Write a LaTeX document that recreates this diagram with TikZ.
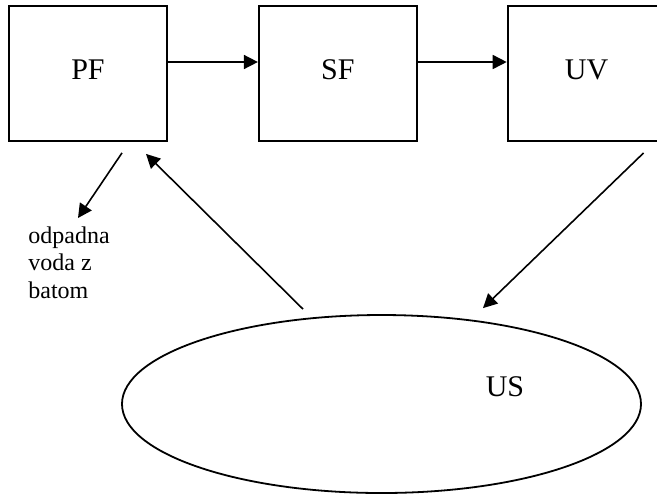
\documentclass[tikz,border=0pt]{standalone}
\usepackage{fontspec}
\setmainfont{Liberation Serif}
\usetikzlibrary{shapes.geometric, arrows.meta, positioning, calc}
\tikzset{
  unitbox/.style={rectangle, draw=black, minimum width=79pt, minimum height=67.5pt, inner sep=0pt, text height=10pt, text depth=4.5pt, font=\fontsize{15}{18}\selectfont, line width=0.9pt},
  poolnode/.style={ellipse, draw=black, minimum width=259.5pt, minimum height=89pt, inner sep=0pt, line width=0.9pt},
  poollabel/.style={font=\fontsize{15}{18}\selectfont, inner sep=0pt},
  notetext/.style={font=\fontsize{12}{13.8}\selectfont, align=left, inner sep=0pt},
  flowarrow/.style={-{Triangle[length=7pt, width=7pt]}, line width=0.8pt},
}

\begin{document}
\begin{tikzpicture}[x=0.5pt, y=-0.5pt]
\clip (0,0) rectangle (657,494);
% treatment line
\node[unitbox] (pf) at (88,73.5) {PF};
\node[unitbox, right=45pt of pf] (sf) {SF};
\node[unitbox, right=44.5pt of sf] (uv) {UV};
% pool
\node[poolnode] (us) at (381.5,404) {};
\node[poollabel] (uslabel) at (505,387) {US};
\node[notetext, anchor=north west] (waste) at (28,226) {odpadna\\voda z\\batom};

\coordinate (pfout) at ($(pf.south)+(34,11)$);
\coordinate (pfin) at ($(pf.south)+(58,12)$);
\coordinate (uvout) at ($(uv.south)+(57,11)$);
\coordinate (usin) at ($(us.north)+(101.5,-6)$);
\coordinate (usout) at ($(us.north)+(-78.5,-5)$);

\draw[flowarrow] ([yshift=5.75pt]pf.east) -- ([yshift=5.75pt]sf.west);
\draw[flowarrow] ([yshift=5.75pt]sf.east) -- ([yshift=5.75pt]uv.west);
\draw[flowarrow] (pfout) -- ($(waste.north west)+(50,-8)$);
\draw[flowarrow] (uvout) -- (usin);
\draw[flowarrow] (usout) -- (pfin);
\end{tikzpicture}
\end{document}
